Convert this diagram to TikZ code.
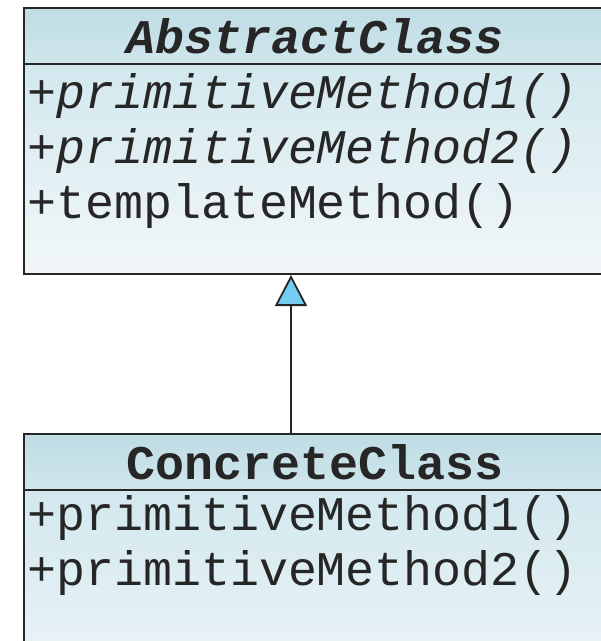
\documentclass[tikz,border=0pt]{standalone}
\usepackage{fontspec}
\setmonofont{Liberation Mono}
\usetikzlibrary{arrows.meta,positioning}
\definecolor{headtop}{HTML}{BFDCE4}
\definecolor{headbot}{HTML}{CFE6EC}
\definecolor{bodytop}{HTML}{D2E8EE}
\definecolor{bodybot}{HTML}{F2F7F9}
\definecolor{tipblue}{HTML}{74CCF0}
\definecolor{umltext}{HTML}{262626}
\newcommand\umlfont{\ttfamily\fontsize{48.3}{55}\selectfont}
\begin{document}
\begin{tikzpicture}[x=1pt,y=-1pt,
        classbox/.style={draw=black!85, line width=2pt, anchor=north west,
            inner sep=0pt, minimum width=582pt},
        headbox/.style={classbox, minimum height=56pt, top color=headtop,
            bottom color=headbot, text=umltext, font=\umlfont\bfseries},
        bodybox/.style={classbox, top color=bodytop, bottom color=bodybot},
        member/.style={anchor=base west, inner sep=0pt, text=umltext, font=\umlfont},
        inherit/.style={draw=black!85, line width=1.8pt,
            -{Triangle[length=31pt,width=32pt,fill=tipblue]}}]
    \clip (0,0) rectangle (601,641);
    \fill[white] (0,0) rectangle (601,641);
    % abstract class
    \node[headbox] (abstractHead) at (23,7) {\itshape AbstractClass};
    \node[bodybox, minimum height=210pt] (abstractBody) at (23,63) {};
    \node[member] (abstractOp1) at (27,108) {\itshape +primitiveMethod1()};
    \node[member] (abstractOp2) at (27,163) {\itshape +primitiveMethod2()};
    \node[member] (abstractOp3) at (27,218) {+templateMethod()};
    % concrete class
    \node[headbox] (concreteHead) at (23,433) {ConcreteClass};
    \node[bodybox, minimum height=230pt] (concreteBody) at (23,489) {};
    \node[member] (concreteOp1) at (27,530) {+primitiveMethod1()};
    \node[member] (concreteOp2) at (27,585) {+primitiveMethod2()};
    \draw[inherit] ([xshift=-24pt]concreteHead.north) -- ([xshift=-24pt]abstractBody.south);
\end{tikzpicture}
\end{document}
